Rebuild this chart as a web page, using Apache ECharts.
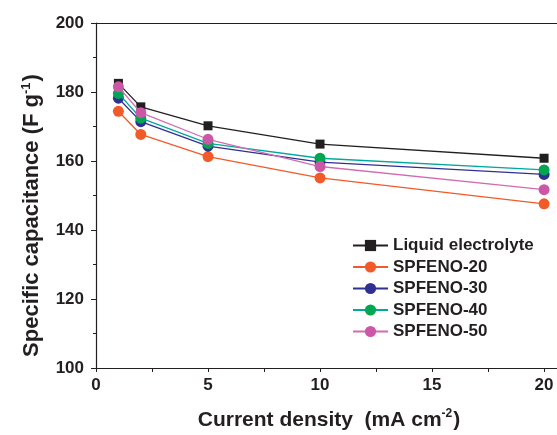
<!DOCTYPE html>
<html>
<head>
<meta charset="utf-8">
<script src="https://cdn.jsdelivr.net/npm/echarts@6/dist/echarts.min.js"></script>
<style>
html,body{margin:0;padding:0;background:#fff;}
#chart{width:557px;height:435px;}
</style>
</head>
<body>
<div id="chart"></div>
<script>
var currentDensity = [1, 2, 5, 10, 20];
var liquid   = [182.5, 175.7, 170.2, 164.9, 160.8];
var spfeno20 = [174.4, 167.7, 161.3, 155.1, 147.6];
var spfeno30 = [178.2, 171.4, 164.3, 159.7, 156.1];
var spfeno40 = [179.6, 172.4, 165.1, 160.8, 157.4];
var spfeno50 = [181.5, 174.0, 166.3, 158.4, 151.7];
var seriesNames = ['Liquid electrolyte', 'SPFENO-20', 'SPFENO-30', 'SPFENO-40', 'SPFENO-50'];
var xTickLabels = [0, 5, 10, 15, 20];
var yTickLabels = [100, 120, 140, 160, 180, 200];

var FONT = '"Liberation Sans", Arial, Helvetica, sans-serif';
var INK = '#231f20';

function pairs(vals) {
  return currentDensity.map(function (x, i) { return [x, vals[i]]; });
}

var styles = [
  { symbol: 'rect',   size: 9,  item: '#231f20', line: '#231f20' },
  { symbol: 'circle', size: 11, item: '#f15a29', line: '#f15a29' },
  { symbol: 'circle', size: 11, item: '#2e3192', line: '#2e3192' },
  { symbol: 'circle', size: 11, item: '#00a651', line: '#00a99d' },
  { symbol: 'circle', size: 11, item: '#cc57a6', line: '#d36bb2' }
];
var allData = [liquid, spfeno20, spfeno30, spfeno40, spfeno50];

var series = allData.map(function (vals, i) {
  return {
    name: seriesNames[i],
    type: 'line',
    data: pairs(vals),
    symbol: styles[i].symbol,
    symbolSize: styles[i].size,
    itemStyle: { color: styles[i].item },
    lineStyle: { color: styles[i].line, width: 1.3 },
    emphasis: { disabled: true },
    animation: false,
    z: 2 + i
  };
});

var chart = echarts.init(document.getElementById('chart'), null, { renderer: 'canvas' });
chart.setOption({
  backgroundColor: '#ffffff',
  animation: false,
  grid: { left: 96, width: 466, top: 23, bottom: 67, containLabel: false, outerBoundsMode: 'none' },
  legend: {
    orient: 'vertical',
    left: 352,
    top: 237,
    padding: 0,
    itemWidth: 35,
    itemHeight: 14,
    itemGap: 4.5,
    textStyle: { fontFamily: FONT, fontWeight: 'bold', fontSize: 17, color: INK, lineHeight: 17 },
    data: seriesNames
  },
  xAxis: [{
    type: 'value',
    min: 0,
    max: 20.8,
    interval: 2.5,
    position: 'bottom',
    splitLine: { show: false },
    axisLine: { lineStyle: { color: INK, width: 1.2 } },
    axisTick: { inside: false, length: 4, lineStyle: { color: INK, width: 1 } },
    axisLabel: {
      margin: 9,
      fontFamily: FONT, fontWeight: 'bold', fontSize: 17, color: INK,
      formatter: function (v) { return xTickLabels.indexOf(v) >= 0 ? String(v) : ''; }
    },
    name: '{a|Current density  (mA cm}{s|-2}{a|)}',
    nameLocation: 'middle',
    nameGap: 40,
    nameTextStyle: {
      padding: [0, 0, 0, 0],
      rich: {
        a: { fontFamily: FONT, fontWeight: 'bold', fontSize: 21, color: INK, lineHeight: 24 },
        s: { fontFamily: FONT, fontWeight: 'bold', fontSize: 12, color: INK, verticalAlign: 'top', lineHeight: 24, padding: [0, 1, 10, 0] }
      }
    }
  }, {
    type: 'value',
    min: 0,
    max: 20.8,
    position: 'top',
    splitLine: { show: false },
    axisLine: { lineStyle: { color: INK, width: 1.2 } },
    axisTick: { show: false },
    axisLabel: { show: false }
  }],
  yAxis: {
    type: 'value',
    min: 100,
    max: 200,
    interval: 20,
    splitLine: { show: false },
    axisLine: { show: true, lineStyle: { color: INK, width: 1.2 } },
    axisTick: { show: true, inside: false, length: 5, lineStyle: { color: INK, width: 1 } },
    minorTick: { show: true, splitNumber: 2, length: 3, lineStyle: { color: INK, width: 1 } },
    axisLabel: {
      margin: 12,
      fontFamily: FONT, fontWeight: 'bold', fontSize: 17, color: INK,
      formatter: function (v) { return yTickLabels.indexOf(v) >= 0 ? String(v) : ''; }
    },
    name: '{a|Specific capacitance (F g}{s|-1}{a|)}',
    nameLocation: 'middle',
    nameGap: 52,
    nameTextStyle: {
      padding: [0, 40, 0, 0],
      rich: {
        a: { fontFamily: FONT, fontWeight: 'bold', fontSize: 22, color: INK, lineHeight: 24 },
        s: { fontFamily: FONT, fontWeight: 'bold', fontSize: 13, color: INK, verticalAlign: 'top', lineHeight: 24, padding: [0, 1, 10, 0] }
      }
    }
  },
  series: series
});
</script>
</body>
</html>
